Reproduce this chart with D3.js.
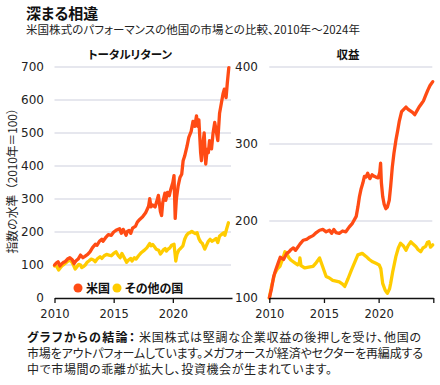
<!DOCTYPE html>
<html><head><meta charset="utf-8">
<script src="https://cdn.jsdelivr.net/npm/d3@7"></script>
<style>
html,body{margin:0;padding:0;background:#fff;}
svg{display:block;}
.jp{font-family:"Noto Sans CJK JP","Noto Sans",sans-serif;font-feature-settings:"palt";}
.num{font-family:"DejaVu Sans",sans-serif;}
</style></head>
<body>
<svg id="c" width="440" height="385"></svg>
<script>
// ---- Data ----
const titleText = "深まる相違";
const subtitleText = "米国株式のパフォーマンスの他国の市場との比較、2010年～2024年";
const panelTitles = ["トータルリターン", "収益"];
const seriesNames = ["米国", "その他の国"];
const yLabelText = "指数の水準（2010年＝100）";
const noteBold = "グラフからの結論：";
const noteLines = ["米国株式は堅調な企業収益の後押しを受け、他国の",
  "市場をアウトパフォームしています。メガフォースが経済やセクターを再編成する",
  "中で市場間の乖離が拡大し、投資機会が生まれています。"];

const xTicksLeft = [2010, 2015, 2020];
const xTicksRight = [2010, 2015, 2020, 2025];
const yTicksLeft = [0, 100, 200, 300, 400, 500, 600, 700];
const yTicksRight = [100, 200, 300, 400];

// Total return, US
const usTotalYears = [2010.0,2010.15,2010.3,2010.45,2010.6,2010.75,2010.9,2011.1,2011.3,2011.5,2011.65,2011.8,2012.0,2012.2,2012.4,2012.6,2012.8,2013.0,2013.2,2013.45,2013.6,2013.8,2014.0,2014.1,2014.3,2014.55,2014.8,2015.0,2015.2,2015.5,2015.65,2015.8,2016.05,2016.15,2016.3,2016.45,2016.6,2016.85,2017.0,2017.2,2017.45,2017.7,2017.95,2018.05,2018.15,2018.3,2018.5,2018.7,2018.78,2018.95,2019.05,2019.15,2019.33,2019.4,2019.55,2019.7,2019.8,2020.0,2020.1,2020.2,2020.3,2020.45,2020.6,2020.75,2020.87,2021.0,2021.2,2021.35,2021.55,2021.7,2021.85,2022.0,2022.1,2022.2,2022.35,2022.42,2022.55,2022.65,2022.78,2022.9,2023.0,2023.1,2023.2,2023.27,2023.4,2023.54,2023.65,2023.8,2023.95,2024.1,2024.25,2024.35,2024.5,2024.6,2024.73];
const usTotal = [100,106,110,97,103,108,110,118,122,116,104,112,118,130,122,127,132,140,152,163,160,172,178,172,182,192,190,200,205,210,196,208,190,202,205,196,212,218,230,238,246,258,278,301,276,282,276,300,311,262,250,290,318,296,320,310,326,350,371,241,300,340,365,375,416,430,460,487,505,535,520,552,520,540,440,416,470,500,406,450,440,477,460,452,500,532,510,477,560,590,620,633,607,650,698];

// Total return, other countries
const otherTotalYears = [2010.0,2010.1,2010.2,2010.35,2010.5,2010.65,2010.8,2011.0,2011.15,2011.3,2011.45,2011.6,2011.75,2011.9,2012.05,2012.2,2012.3,2012.45,2012.6,2012.75,2012.9,2013.1,2013.3,2013.45,2013.6,2013.85,2014.0,2014.2,2014.4,2014.6,2014.8,2015.0,2015.2,2015.4,2015.55,2015.7,2015.85,2016.1,2016.25,2016.45,2016.55,2016.75,2016.9,2017.1,2017.35,2017.6,2017.8,2018.05,2018.15,2018.3,2018.45,2018.6,2018.8,2018.95,2019.05,2019.2,2019.35,2019.45,2019.6,2019.75,2019.9,2020.1,2020.2,2020.25,2020.35,2020.5,2020.65,2020.85,2021.0,2021.15,2021.3,2021.45,2021.6,2021.75,2021.9,2022.05,2022.2,2022.35,2022.5,2022.7,2022.85,2023.0,2023.15,2023.3,2023.5,2023.65,2023.8,2023.95,2024.1,2024.3,2024.4,2024.55,2024.7];
const otherTotal = [97,100,95,85,92,98,102,108,112,115,110,100,88,95,102,100,92,95,100,108,112,118,115,110,118,125,120,128,132,130,128,135,140,128,122,135,125,108,115,120,112,122,118,128,138,145,152,165,158,162,155,148,145,133,138,146,150,142,148,152,160,163,130,112,132,145,150,158,178,190,196,198,202,198,195,198,180,170,165,148,160,172,178,172,176,180,168,188,192,198,190,210,228];

// Earnings, US
const usEarnYears = [2010.0,2010.2,2010.4,2010.6,2010.8,2011.0,2011.3,2011.6,2011.8,2012.0,2012.2,2012.4,2012.6,2012.8,2013.1,2013.4,2013.7,2014.0,2014.3,2014.6,2014.9,2015.2,2015.5,2015.7,2015.9,2016.1,2016.4,2016.7,2017.0,2017.3,2017.6,2017.95,2018.1,2018.25,2018.4,2018.55,2018.7,2018.85,2019.0,2019.2,2019.4,2019.6,2019.75,2019.95,2020.1,2020.18,2020.25,2020.37,2020.5,2020.66,2020.8,2020.97,2021.1,2021.25,2021.4,2021.58,2021.75,2021.88,2022.1,2022.3,2022.5,2022.7,2022.9,2023.1,2023.3,2023.5,2023.7,2023.9,2024.1,2024.3,2024.5,2024.7,2024.95];
const usEarn = [100,112,128,137,145,153,150,158,160,163,165,162,166,170,175,176,179,181,185,188,189,186,188,184,189,185,184,187,186,192,197,206,218,232,242,249,258,257,262,255,260,258,257,256,263,275,250,232,222,216,218,227,245,270,288,305,318,329,342,345,348,345,343,341,338,343,348,352,356,363,370,376,381];

// Earnings, other countries
const otherEarnYears = [2010.0,2010.2,2010.5,2010.75,2010.97,2011.2,2011.43,2011.6,2011.8,2012.0,2012.3,2012.6,2012.75,2012.8,2012.9,2013.25,2013.6,2014.0,2014.3,2014.6,2014.9,2015.2,2015.5,2015.8,2016.1,2016.4,2016.7,2016.9,2017.2,2017.5,2017.8,2018.1,2018.5,2018.85,2019.15,2019.45,2019.75,2020.05,2020.2,2020.37,2020.6,2020.8,2021.0,2021.1,2021.3,2021.58,2021.8,2022.0,2022.25,2022.5,2022.7,2022.95,2023.15,2023.4,2023.6,2023.85,2024.05,2024.3,2024.45,2024.6,2024.75,2024.95];
const otherEarn = [100,115,132,138,141,150,160,158,152,149,146,143,146,152,142,139,140,141,146,152,140,128,126,123,122,121,118,115,125,136,146,156,158,154,150,147,145,143,138,119,110,106,112,119,135,154,165,171,168,162,168,173,170,167,163,160,165,167,172,173,166,169];

// ---- Drawing ----
const svg = d3.select("#c");
const ORANGE = "#ff4b14", YELLOW = "#ffcc00", GRID = "#dedfe8";

svg.append("text").attr("class","jp").attr("x",26).attr("y",19)
  .attr("font-size",15).attr("font-weight",700).attr("fill","#111").text(titleText);
svg.append("text").attr("class","jp").attr("x",26).attr("y",34)
  .attr("font-size",11.5).attr("fill","#222")
  .attr("textLength",334).attr("lengthAdjust","spacing").text(subtitleText);

const yBase = 298;
const panels = [
  {x0:54.5, x1:232, yDom:[0,700], yTop:67, yTicks:yTicksLeft, xTicks:xTicksLeft, lblX:44, title:panelTitles[0], titleX:130,
   series:[{yrs:usTotalYears, v:usTotal, c:ORANGE},{yrs:otherTotalYears, v:otherTotal, c:YELLOW}]},
  {x0:269.3, x1:433.3, yDom:[100,400], yTop:67, yTicks:yTicksRight, xTicks:xTicksRight, lblX:258, title:panelTitles[1], titleX:348,
   series:[{yrs:usEarnYears, v:usEarn, c:ORANGE},{yrs:otherEarnYears, v:otherEarn, c:YELLOW}]}
];

panels.forEach(p => {
  const x = d3.scaleLinear().domain([2010,2025]).range([p.x0,p.x1]);
  const y = d3.scaleLinear().domain(p.yDom).range([yBase,p.yTop]);
  const g = svg.append("g");
  g.selectAll("line.grid").data(p.yTicks.filter(t=>t!==p.yDom[0])).enter().append("line")
    .attr("x1",p.x0).attr("x2",p.x1-1).attr("y1",d=>y(d)).attr("y2",d=>y(d))
    .attr("stroke",GRID).attr("stroke-width",1.5);
  g.selectAll("text.yl").data(p.yTicks).enter().append("text").attr("class","num")
    .attr("x",p.lblX).attr("y",d=>y(d)).attr("dy","0.36em").attr("text-anchor","end")
    .attr("font-size",12).attr("fill","#222").text(d=>d);
  g.append("text").attr("class","jp").attr("x",p.titleX).attr("y",59).attr("text-anchor","middle")
    .attr("font-size",11.5).attr("font-weight",700).attr("fill","#111").text(p.title);
  const line = d3.line().x(d=>x(d[0])).y(d=>y(d[1])).curve(d3.curveLinear);
  p.series.slice().reverse().forEach(s => {
    g.append("path").datum(s.yrs.map((t,i)=>[t,s.v[i]]))
      .attr("d",line).attr("fill","none").attr("stroke",s.c).attr("stroke-width",3.3)
      .attr("stroke-linejoin","round").attr("stroke-linecap","round");
  });
  const ax = g.append("g").attr("transform",`translate(0,${yBase})`)
    .call(d3.axisBottom(x).tickValues(p.xTicks).tickSize(5).tickSizeOuter(0).tickFormat(d=>d===2025?"":d));
  ax.select(".domain").attr("stroke","#111").attr("stroke-width",1.3);
  ax.selectAll(".tick line").attr("stroke","#111").attr("stroke-width",1.3);
  ax.selectAll(".tick text").attr("class","num").attr("font-size",11.5).attr("fill","#222").attr("y",12).attr("dy","0.71em")
    .style("font-family","'DejaVu Sans',sans-serif");
});

// y axis label
svg.append("text").attr("transform","translate(17,178) rotate(-90)")
  .style("font-family","'Noto Sans CJK JP',sans-serif")
  .attr("text-anchor","middle").attr("font-size",12).attr("fill","#222")
  .attr("textLength",151).attr("lengthAdjust","spacingAndGlyphs").text(yLabelText);

// legend
const leg = svg.append("g");
const legX = [78, 117];
seriesNames.forEach((n,i)=>{
  leg.append("circle").attr("cx",legX[i]).attr("cy",288).attr("r",4.5).attr("fill",i===0?ORANGE:YELLOW);
  leg.append("text").attr("class","jp").attr("x",legX[i]+8).attr("y",292.5)
    .attr("font-size",12).attr("font-weight",700).attr("fill","#111").text(n);
});

// note
const noteY = [342, 358, 374];
svg.append("text").attr("class","jp").attr("x",27).attr("y",noteY[0]).attr("font-size",12)
  .attr("font-weight",700).attr("fill","#111")
  .attr("textLength",108).attr("lengthAdjust","spacing").text(noteBold);
svg.append("text").attr("class","jp").attr("x",139).attr("y",noteY[0]).attr("font-size",12).attr("fill","#222")
  .attr("textLength",282).attr("lengthAdjust","spacing").text(noteLines[0]);
const noteW = [396, 305];
noteLines.slice(1).forEach((l,i)=>{
  svg.append("text").attr("class","jp").attr("x",27).attr("y",noteY[i+1]).attr("font-size",12).attr("fill","#222")
    .attr("textLength",noteW[i]).attr("lengthAdjust","spacing").text(l);
});
</script>
</body></html>
